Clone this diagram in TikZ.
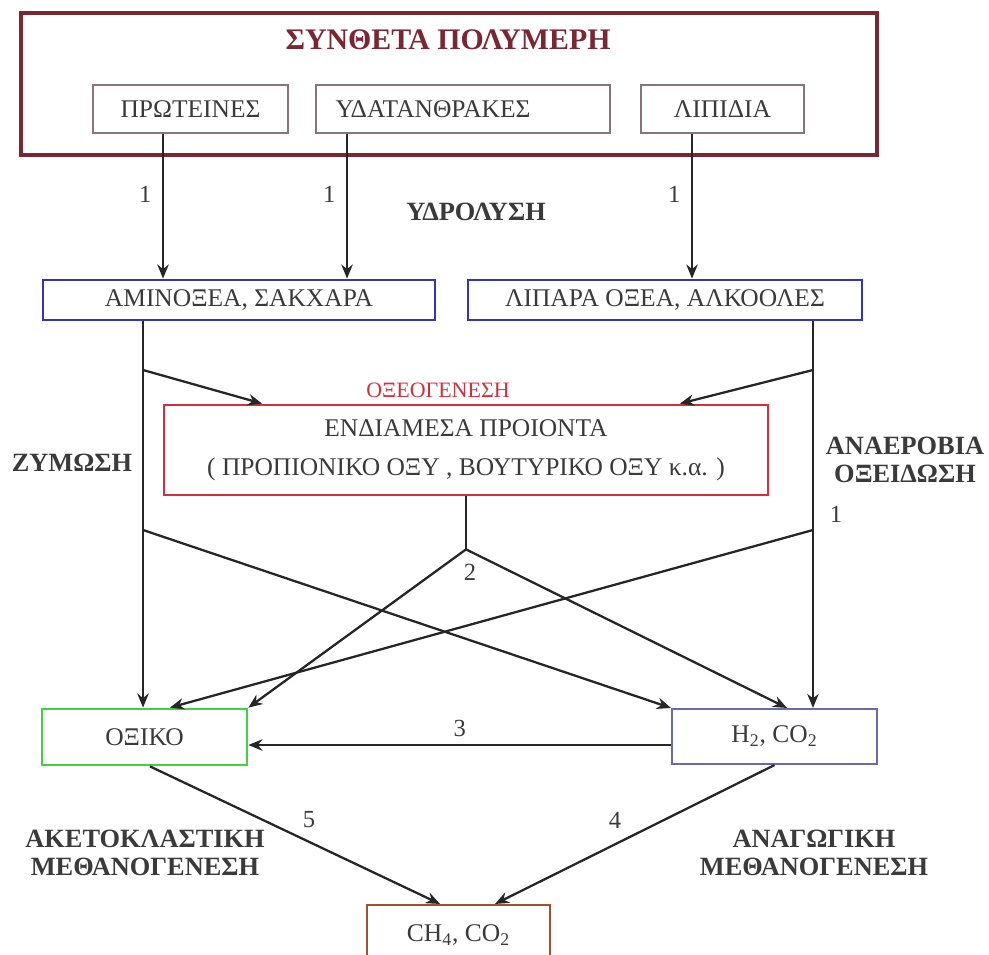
\documentclass[tikz,border=0pt]{standalone}
\usepackage{fontspec}
\setmainfont{Liberation Serif}
\usetikzlibrary{arrows.meta,positioning,calc}
\definecolor{polyRed}{HTML}{7A2633}
\definecolor{polyGray}{HTML}{8A7479}
\definecolor{monoBlue}{HTML}{3434B4}
\definecolor{midRed}{HTML}{D3303F}
\definecolor{acetGreen}{HTML}{3FD33F}
\definecolor{gasBlue}{HTML}{6A6AA6}
\definecolor{methBrown}{HTML}{A0522D}
\definecolor{txtGray}{HTML}{3A3A3A}
\tikzset{
    boxBase/.style={
        rectangle,
        draw,
        line width=1.2pt,
        minimum height=0.96cm,
        align=center,
        text=txtGray,
        inner sep=2pt,
        font=\fontsize{14.5}{17}\selectfont
    },
    % Box variants
    polyBox/.style={boxBase, draw=polyRed, line width=2pt, minimum width=17.12cm, minimum height=2.84cm},
    inBox/.style={boxBase, draw=polyGray},
    monoBox/.style={boxBase, draw=monoBlue, line width=1.6pt, minimum width=7.84cm, minimum height=0.8cm},
    midBox/.style={boxBase, draw=midRed, line width=1.6pt, minimum width=12.08cm, minimum height=1.8cm},
    acetBox/.style={boxBase, draw=acetGreen, line width=1.6pt, minimum width=4.1cm, minimum height=1.12cm},
    gasBox/.style={boxBase, draw=gasBlue, minimum width=4.1cm, minimum height=1.1cm},
    methBox/.style={boxBase, draw=methBrown, minimum width=3.66cm, minimum height=1.2cm},
    % Texts
    polyTitle/.style={font=\fontsize{17}{20}\selectfont\bfseries, text=polyRed},
    procLabel/.style={font=\fontsize{15}{15.5}\selectfont\bfseries, text=txtGray, align=center},
    stepNum/.style={font=\fontsize{14}{16}\selectfont, text=txtGray, inner sep=1pt},
    % Arrows
    arr/.style={-{Stealth[length=8pt,width=6.5pt]}, line width=1.3pt, draw=black!85},
    thinLine/.style={line width=0.8pt, draw=black!85}
}

\begin{document}
\begin{tikzpicture}[x=0.02cm, y=-0.02cm]
\useasboundingbox (0,0) rectangle (989,955);
\clip (0,0) rectangle (989,955);

% compound polymers
\node[polyBox] (poly) at (449,84) {};
\node[polyTitle] (title) at (448,40) {ΣΥΝΘΕΤΑ ΠΟΛΥΜΕΡΗ};
\node[inBox, minimum width=3.9cm] (prot) at (190.5,109) {ΠΡΩΤΕΙΝΕΣ};
\node[inBox, minimum width=5.84cm, text width=5.6cm, align=left, inner sep=4pt] (ydat) at (463,109) {\hspace{0.25cm}ΥΔΑΤΑΝΘΡΑΚΕΣ};
\node[inBox, minimum width=3.26cm] (lip) at (722.5,109) {ΛΙΠΙΔΙΑ};

% monomers
\node[monoBox] (amino) at (239,300) {ΑΜΙΝΟΞΕΑ, ΣΑΚΧΑΡΑ};
\node[monoBox, minimum width=7.88cm] (lipara) at (665,300) {ΛΙΠΑΡΑ ΟΞΕΑ, ΑΛΚΟΟΛΕΣ};

% intermediates and products
\node[midBox] (endiam) at (466,450) {ΕΝΔΙΑΜΕΣΑ ΠΡΟΙΟΝΤΑ\\[5pt]( ΠΡΟΠΙΟΝΙΚΟ ΟΞΥ , ΒΟΥΤΥΡΙΚΟ ΟΞΥ κ.α. )};
\node[acetBox] (oxiko) at (144.5,737) {ΟΞΙΚΟ};
\node[gasBox] (hco) at (774.5,736.5) {H\textsubscript{2}, CO\textsubscript{2}};
\node[methBox] (ch4) at (458.5,935) {CH\textsubscript{4}, CO\textsubscript{2}};

% process labels
\node[procLabel] (hydro) at (476,212) {ΥΔΡΟΛΥΣΗ};
\node[font=\fontsize{12.5}{14}\selectfont, text=midRed] (acido) at (438,390) {ΟΞΕΟΓΕΝΕΣΗ};
\node[procLabel] (ferm) at (72,463) {ΖΥΜΩΣΗ};
\node[procLabel] (anox) at (905,460) {ΑΝΑΕΡΟΒΙΑ\\ΟΞΕΙΔΩΣΗ};
\node[procLabel] (acemeth) at (145,853) {ΑΚΕΤΟΚΛΑΣΤΙΚΗ\\ΜΕΘΑΝΟΓΕΝΕΣΗ};
\node[procLabel] (redmeth) at (814,853) {ΑΝΑΓΩΓΙΚΗ\\ΜΕΘΑΝΟΓΕΝΕΣΗ};

% branch points
\coordinate (zb1) at (143,370);
\coordinate (zb2) at (143,530);
\coordinate (ab1) at (813,370);
\coordinate (ab2) at (813,530);
\coordinate (junc) at ([yshift=-1.06cm]endiam.south);

% hydrolysis
\draw[arr] ([xshift=-0.55cm]prot.south) -- ([xshift=-0.55cm]prot.south |- amino.north) node[stepNum, pos=0.42, left=5pt] {1};
\draw[arr] ([xshift=-2.32cm]ydat.south) -- ([xshift=-2.32cm]ydat.south |- amino.north) node[stepNum, pos=0.42, left=5pt] {1};
\draw[arr] ([xshift=-0.61cm]lip.south) -- ([xshift=-0.61cm]lip.south |- lipara.north) node[stepNum, pos=0.42, left=5pt] {1};

% fermentation / oxidation
\draw[arr] ([xshift=-1.92cm]amino.south) -- ([xshift=-1.92cm]amino.south |- oxiko.north);
\draw[arr] ([xshift=2.96cm]lipara.south) -- ([xshift=2.96cm]lipara.south |- hco.north) node[stepNum, pos=0.5, right=8pt] {1};
\draw[arr] (zb1) -- ([xshift=-4.08cm]endiam.north);
\draw[arr] (ab1) -- ([xshift=4.28cm]endiam.north);
\draw[thinLine] (endiam.south) -- (junc);
\draw[arr] (junc) -- (oxiko.north east);
\draw[arr] (junc) -- ([xshift=0.25cm]hco.north);
\draw[arr] (zb2) -- (hco.north west);
\draw[arr] (ab2) -- ([xshift=0.51cm]oxiko.north);
\node[stepNum] (n2) at (470,572) {2};

% acetogenesis and methanogenesis
\draw[arr] ([yshift=-0.17cm]hco.west) -- ([yshift=-0.17cm]hco.west -| oxiko.east) node[stepNum, midway, above=3pt] {3};
\draw[arr] ([xshift=0.11cm]oxiko.south) -- ([xshift=-0.37cm]ch4.north);
\draw[arr] (hco.south) -- ([xshift=0.73cm]ch4.north);
\node[stepNum] (n5) at (309,820) {5};
\node[stepNum] (n4) at (615,820) {4};
\end{tikzpicture}
\end{document}
